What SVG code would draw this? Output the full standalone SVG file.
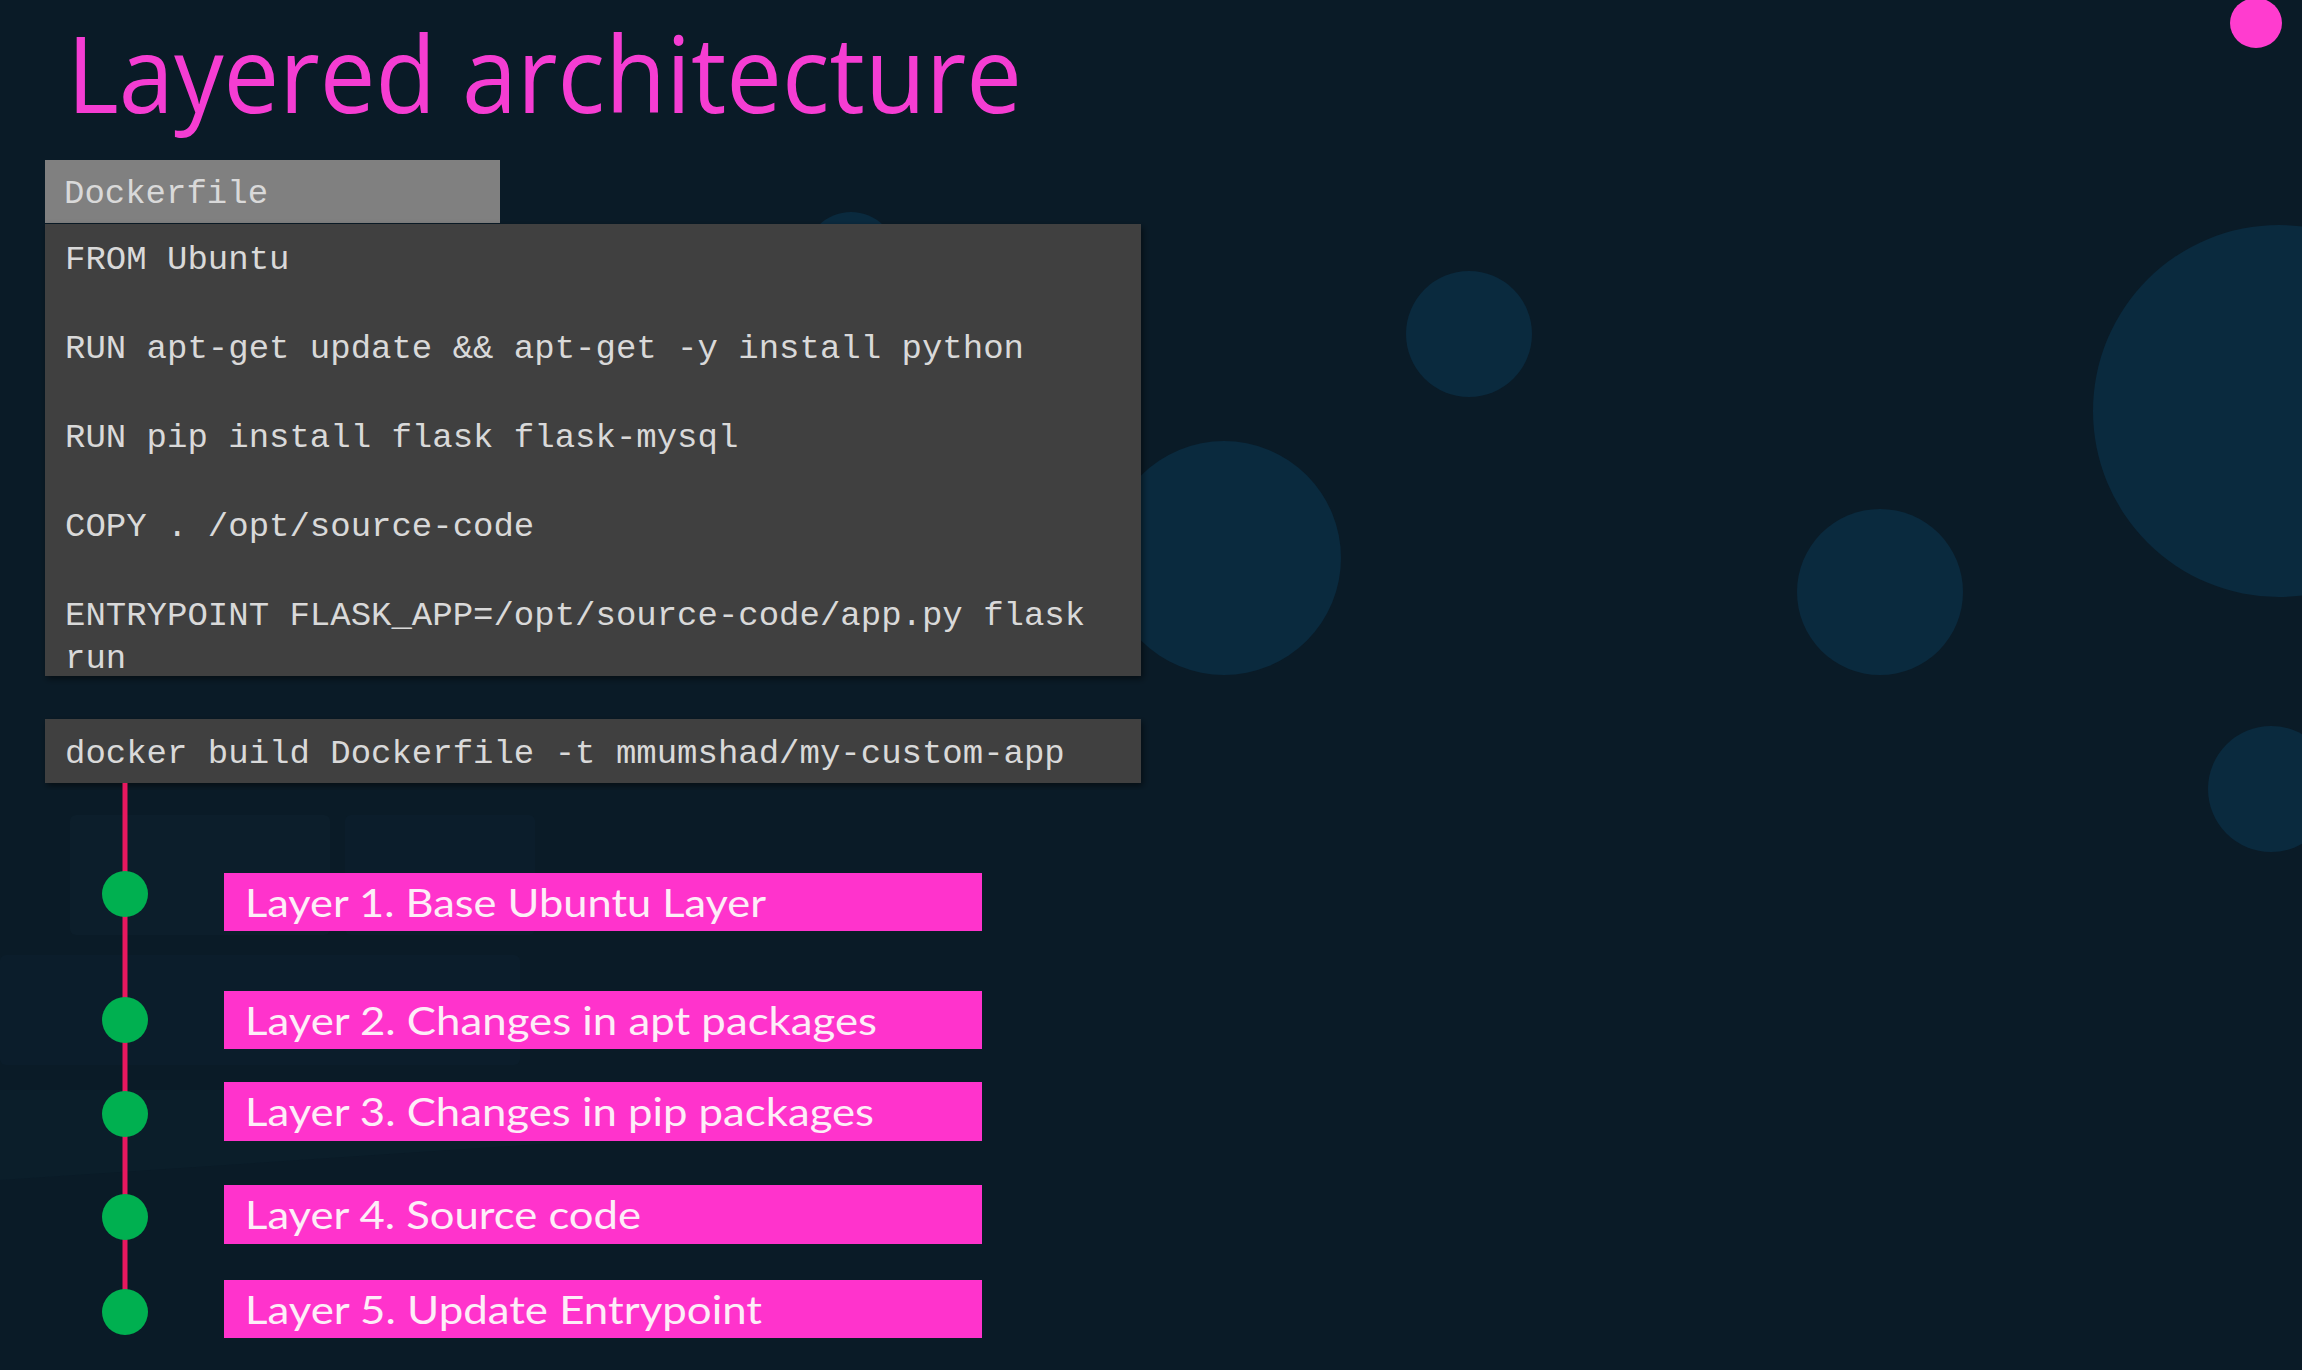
<svg xmlns="http://www.w3.org/2000/svg" width="2302" height="1370" viewBox="0 0 2302 1370">
  <style>
    .bubble { fill: #0a2a3e; }
    .mono { font-family: "Liberation Mono", "DejaVu Sans Mono", monospace; font-size: 34px; fill: #d9d9d9; }
    .layer-box { fill: #ff33cc; }
    .layer-text { font-family: Lato, "Open Sans", sans-serif; font-size: 39px; fill: #fdeef8; }
    .dot { fill: #00b050; }
    .faint { fill: #0d2230; }
  </style>
  <defs>
    <filter id="shadow" x="-5%" y="-5%" width="110%" height="115%">
      <feDropShadow dx="2" dy="3" stdDeviation="3" flood-color="#000000" flood-opacity="0.5"/>
    </filter>
  </defs>

  <!-- background -->
  <rect x="0" y="0" width="2302" height="1370" fill="#0a1b27"/>
  <g id="background-shapes">
    <rect class="faint" x="70" y="815" width="260" height="120" rx="6" opacity="0.5"/>
    <rect class="faint" x="345" y="815" width="190" height="120" rx="6" opacity="0.45"/>
    <rect class="faint" x="0" y="955" width="520" height="110" rx="6" opacity="0.45"/>
    <path class="faint" d="M0 1090 L560 1090 L600 1140 L0 1180 Z" opacity="0.4"/>
    <circle class="bubble" cx="851" cy="258" r="46"/>
    <circle class="bubble" cx="1224" cy="558" r="117"/>
    <circle class="bubble" cx="1469" cy="334" r="63"/>
    <circle class="bubble" cx="1880" cy="592" r="83"/>
    <circle class="bubble" cx="2279" cy="411" r="186"/>
    <circle class="bubble" cx="2271" cy="789" r="63"/>
    <ellipse cx="2256" cy="23" rx="26" ry="25" fill="#ff3ccf"/>
  </g>

  <!-- title -->
  <g id="title">
    <text x="67" y="113" font-family="'Open Sans', Lato, sans-serif" font-size="106" fill="#f53dd2" textLength="955" lengthAdjust="spacingAndGlyphs">Layered architecture</text>
  </g>

  <!-- Dockerfile -->
  <g id="dockerfile-tab">
    <rect x="45" y="160" width="455" height="63" fill="#808080"/>
    <text class="mono" x="64" y="203" fill="#e0e0e0">Dockerfile</text>
  </g>
  <g id="dockerfile-code">
    <rect x="45" y="224" width="1096" height="452" fill="#404040" filter="url(#shadow)"/>
    <text class="mono" x="65" y="269">FROM Ubuntu</text>
    <text class="mono" x="65" y="358">RUN apt-get update &amp;&amp; apt-get -y install python</text>
    <text class="mono" x="65" y="447">RUN pip install flask flask-mysql</text>
    <text class="mono" x="65" y="536">COPY . /opt/source-code</text>
    <text class="mono" x="65" y="625">ENTRYPOINT FLASK_APP=/opt/source-code/app.py flask</text>
    <text class="mono" x="65" y="668">run</text>
  </g>

  <g id="build-command">
    <rect x="45" y="719" width="1096" height="64" fill="#404040" filter="url(#shadow)"/>
    <text class="mono" x="65" y="763">docker build Dockerfile -t mmumshad/my-custom-app</text>
  </g>

  <!-- connectors -->
  <g id="connectors">
    <line x1="125" y1="783" x2="125" y2="1312" stroke="#e8185f" stroke-width="5"/>
  </g>

  <!-- layers -->
  <g id="layer1">
    <circle class="dot" cx="125" cy="894" r="23"/>
    <rect class="layer-box" x="224" y="873" width="758" height="58"/>
    <text class="layer-text" x="245" y="917" textLength="521" lengthAdjust="spacingAndGlyphs">Layer 1. Base Ubuntu Layer</text>
  </g>
  <g id="layer2">
    <circle class="dot" cx="125" cy="1020" r="23"/>
    <rect class="layer-box" x="224" y="991" width="758" height="58"/>
    <text class="layer-text" x="245" y="1035" textLength="632" lengthAdjust="spacingAndGlyphs">Layer 2. Changes in apt packages</text>
  </g>
  <g id="layer3">
    <circle class="dot" cx="125" cy="1114" r="23"/>
    <rect class="layer-box" x="224" y="1082" width="758" height="59"/>
    <text class="layer-text" x="245" y="1126" textLength="629" lengthAdjust="spacingAndGlyphs">Layer 3. Changes in pip packages</text>
  </g>
  <g id="layer4">
    <circle class="dot" cx="125" cy="1217" r="23"/>
    <rect class="layer-box" x="224" y="1185" width="758" height="59"/>
    <text class="layer-text" x="245" y="1229" textLength="396" lengthAdjust="spacingAndGlyphs">Layer 4. Source code</text>
  </g>
  <g id="layer5">
    <circle class="dot" cx="125" cy="1312" r="23"/>
    <rect class="layer-box" x="224" y="1280" width="758" height="58"/>
    <text class="layer-text" x="245" y="1324" textLength="517" lengthAdjust="spacingAndGlyphs">Layer 5. Update Entrypoint</text>
  </g>
</svg>
